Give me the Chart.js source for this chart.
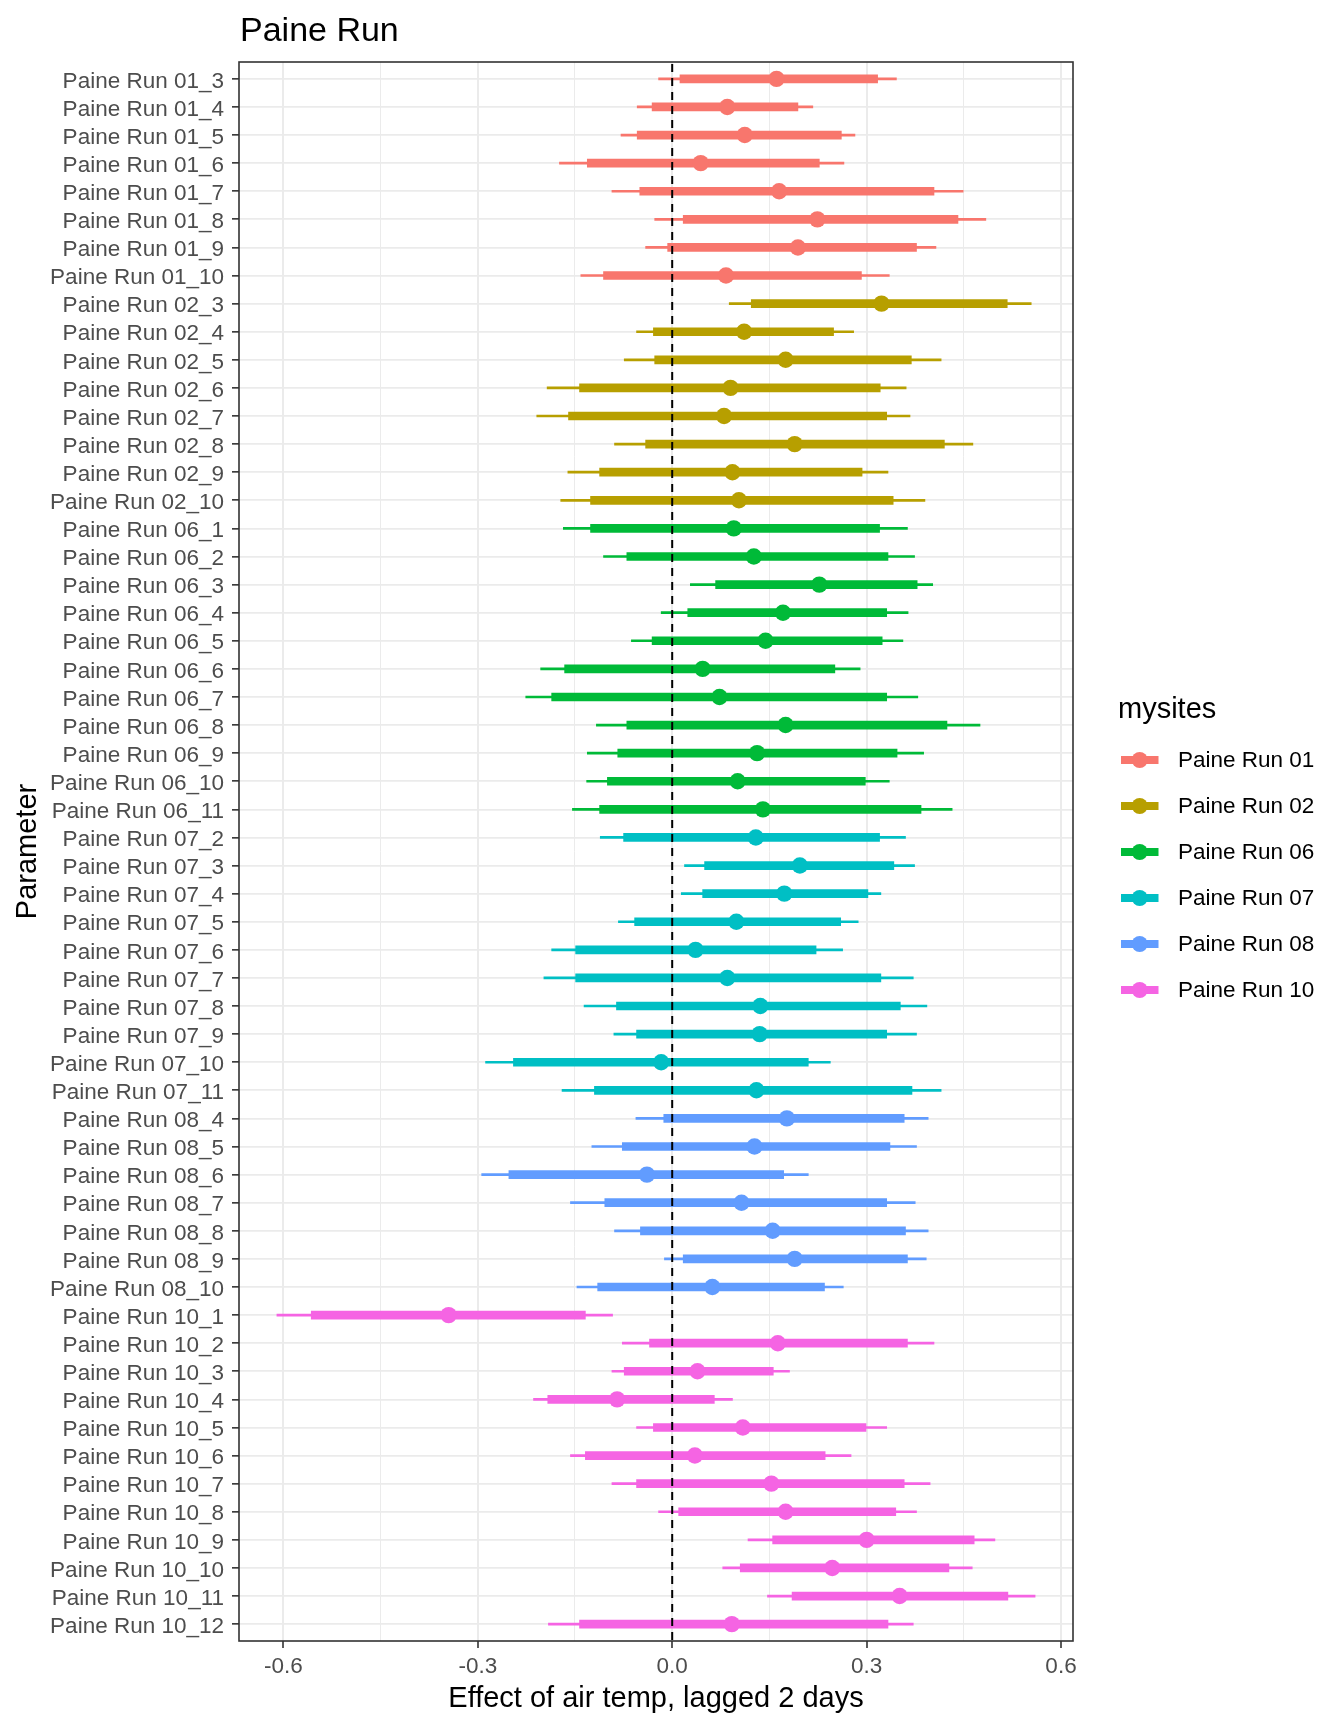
<!DOCTYPE html>
<html>
<head>
<meta charset="utf-8">
<script src="https://cdn.jsdelivr.net/npm/chart.js@4.4.1/dist/chart.umd.min.js"></script>
<style>
html,body{margin:0;padding:0;background:#ffffff;}
#wrap{width:1344px;height:1728px;}
</style>
</head>
<body>
<div id="wrap"><canvas id="c" width="1344" height="1728"></canvas></div>
<script>
// ---------------- data ----------------
const chartTitle = "Paine Run";
const xAxisTitle = "Effect of air temp, lagged 2 days";
const yAxisTitle = "Parameter";
const legendTitle = "mysites";

const sites = ["Paine Run 01","Paine Run 02","Paine Run 06","Paine Run 07","Paine Run 08","Paine Run 10"];

const categories = [
  "Paine Run 01_3","Paine Run 01_4","Paine Run 01_5","Paine Run 01_6","Paine Run 01_7","Paine Run 01_8","Paine Run 01_9","Paine Run 01_10",
  "Paine Run 02_3","Paine Run 02_4","Paine Run 02_5","Paine Run 02_6","Paine Run 02_7","Paine Run 02_8","Paine Run 02_9","Paine Run 02_10",
  "Paine Run 06_1","Paine Run 06_2","Paine Run 06_3","Paine Run 06_4","Paine Run 06_5","Paine Run 06_6","Paine Run 06_7","Paine Run 06_8","Paine Run 06_9","Paine Run 06_10","Paine Run 06_11",
  "Paine Run 07_2","Paine Run 07_3","Paine Run 07_4","Paine Run 07_5","Paine Run 07_6","Paine Run 07_7","Paine Run 07_8","Paine Run 07_9","Paine Run 07_10","Paine Run 07_11",
  "Paine Run 08_4","Paine Run 08_5","Paine Run 08_6","Paine Run 08_7","Paine Run 08_8","Paine Run 08_9","Paine Run 08_10",
  "Paine Run 10_1","Paine Run 10_2","Paine Run 10_3","Paine Run 10_4","Paine Run 10_5","Paine Run 10_6","Paine Run 10_7","Paine Run 10_8","Paine Run 10_9","Paine Run 10_10","Paine Run 10_11","Paine Run 10_12"
];

const siteOf = [
  "Paine Run 01","Paine Run 01","Paine Run 01","Paine Run 01","Paine Run 01","Paine Run 01","Paine Run 01","Paine Run 01",
  "Paine Run 02","Paine Run 02","Paine Run 02","Paine Run 02","Paine Run 02","Paine Run 02","Paine Run 02","Paine Run 02",
  "Paine Run 06","Paine Run 06","Paine Run 06","Paine Run 06","Paine Run 06","Paine Run 06","Paine Run 06","Paine Run 06","Paine Run 06","Paine Run 06","Paine Run 06",
  "Paine Run 07","Paine Run 07","Paine Run 07","Paine Run 07","Paine Run 07","Paine Run 07","Paine Run 07","Paine Run 07","Paine Run 07","Paine Run 07",
  "Paine Run 08","Paine Run 08","Paine Run 08","Paine Run 08","Paine Run 08","Paine Run 08","Paine Run 08",
  "Paine Run 10","Paine Run 10","Paine Run 10","Paine Run 10","Paine Run 10","Paine Run 10","Paine Run 10","Paine Run 10","Paine Run 10","Paine Run 10","Paine Run 10","Paine Run 10"
];

const estimate = [
  0.161, 0.085, 0.112, 0.044, 0.165, 0.224, 0.194, 0.083,
  0.323, 0.111, 0.175, 0.090, 0.080, 0.189, 0.093, 0.103,
  0.095, 0.126, 0.227, 0.171, 0.144, 0.047, 0.073, 0.175, 0.131, 0.101, 0.140,
  0.129, 0.197, 0.173, 0.099, 0.036, 0.085, 0.136, 0.135, -0.017, 0.130,
  0.177, 0.127, -0.039, 0.107, 0.155, 0.189, 0.062,
  -0.345, 0.163, 0.039, -0.085, 0.109, 0.035, 0.153, 0.175, 0.300, 0.247, 0.351, 0.092
];

const lo80 = [
  0.012, -0.031, -0.054, -0.131, -0.050, 0.017, -0.007, -0.106,
  0.122, -0.029, -0.027, -0.143, -0.160, -0.041, -0.112, -0.126,
  -0.126, -0.070, 0.067, 0.024, -0.031, -0.166, -0.186, -0.070, -0.084, -0.100, -0.112,
  -0.075, 0.050, 0.047, -0.058, -0.149, -0.149, -0.086, -0.055, -0.245, -0.120,
  -0.013, -0.077, -0.252, -0.104, -0.049, 0.017, -0.115,
  -0.557, -0.035, -0.074, -0.192, -0.029, -0.134, -0.055, 0.010, 0.155, 0.105, 0.185, -0.143
];

const hi80 = [
  0.317, 0.194, 0.261, 0.227, 0.404, 0.441, 0.377, 0.292,
  0.517, 0.249, 0.369, 0.321, 0.331, 0.420, 0.293, 0.341,
  0.320, 0.333, 0.378, 0.331, 0.324, 0.251, 0.331, 0.424, 0.347, 0.298, 0.384,
  0.320, 0.342, 0.302, 0.260, 0.222, 0.322, 0.352, 0.331, 0.210, 0.370,
  0.358, 0.336, 0.172, 0.331, 0.360, 0.363, 0.235,
  -0.134, 0.363, 0.156, 0.065, 0.299, 0.236, 0.358, 0.345, 0.466, 0.427, 0.518, 0.333
];

const lo95 = [
  -0.021, -0.054, -0.079, -0.174, -0.093, -0.027, -0.041, -0.141,
  0.088, -0.055, -0.074, -0.193, -0.209, -0.089, -0.161, -0.172,
  -0.168, -0.106, 0.028, -0.017, -0.063, -0.203, -0.226, -0.117, -0.131, -0.132, -0.154,
  -0.111, 0.019, 0.014, -0.083, -0.186, -0.198, -0.136, -0.090, -0.288, -0.170,
  -0.056, -0.124, -0.294, -0.157, -0.089, -0.012, -0.147,
  -0.610, -0.077, -0.093, -0.214, -0.055, -0.157, -0.093, -0.021, 0.117, 0.078, 0.147, -0.191
];

const hi95 = [
  0.346, 0.217, 0.282, 0.265, 0.449, 0.484, 0.407, 0.335,
  0.554, 0.280, 0.415, 0.361, 0.367, 0.464, 0.333, 0.390,
  0.363, 0.374, 0.402, 0.364, 0.356, 0.290, 0.379, 0.475, 0.388, 0.335, 0.432,
  0.360, 0.374, 0.322, 0.287, 0.263, 0.372, 0.393, 0.377, 0.244, 0.415,
  0.395, 0.377, 0.210, 0.375, 0.395, 0.392, 0.264,
  -0.092, 0.404, 0.181, 0.093, 0.331, 0.276, 0.398, 0.377, 0.498, 0.463, 0.560, 0.372
];

const xTickValues = [-0.6, -0.3, 0.0, 0.3, 0.6];
const xTickLabels = ["-0.6", "-0.3", "0.0", "0.3", "0.6"];
const xMinorValues = [-0.45, -0.15, 0.15, 0.45];
const referenceLine = 0;

// ---------------- styling ----------------
const palette = ["#F8766D", "#B79F00", "#00BA38", "#00BFC4", "#619CFF", "#F564E3"];
const FONT = "'Liberation Sans', Arial, Helvetica, sans-serif";
Chart.defaults.font.family = FONT;

const rowColors = siteOf.map(s => palette[sites.indexOf(s)]);
const rowPos = categories.map((_, i) => i + 1);
const allXGrid = xTickValues.concat(xMinorValues).sort((a, b) => a - b);
const isMajor = v => xTickValues.some(t => Math.abs(t - v) < 1e-9);

const decor = {
  id: 'decor',
  afterDatasetsDraw(chart) {
    const {ctx, chartArea: a, scales: {x}} = chart;
    const px = x.getPixelForValue(referenceLine);
    ctx.save();
    ctx.strokeStyle = '#000000';
    ctx.lineWidth = 2;
    ctx.setLineDash([8, 6]);
    ctx.beginPath();
    ctx.moveTo(px, a.top + 2);
    ctx.lineTo(px, a.bottom);
    ctx.stroke();
    ctx.restore();
  },
  afterDraw(chart) {
    const {ctx, chartArea: a} = chart;
    ctx.save();
    // panel border
    ctx.strokeStyle = '#333333';
    ctx.lineWidth = 1.6;
    ctx.strokeRect(a.left, a.top, a.right - a.left, a.bottom - a.top);
    // title
    ctx.fillStyle = '#000000';
    ctx.textBaseline = 'middle';
    ctx.textAlign = 'left';
    ctx.font = "34px " + FONT;
    ctx.fillText(chartTitle, a.left + 1, 32);
    // legend
    const lx = 1118;
    ctx.font = "29px " + FONT;
    ctx.fillText(legendTitle, lx, 710);
    ctx.font = "22.5px " + FONT;
    sites.forEach((s, i) => {
      const cy = 760 + i * 46;
      const col = palette[i];
      ctx.fillStyle = col;
      ctx.fillRect(1121, cy - 4, 37.5, 8);
      ctx.beginPath();
      ctx.arc(1139.7, cy, 8, 0, Math.PI * 2);
      ctx.fill();
      ctx.fillStyle = '#000000';
      ctx.fillText(s, 1178, cy + 1);
    });
    ctx.restore();
  }
};

new Chart(document.getElementById('c'), {
  type: 'bar',
  data: {
    datasets: [
      {
        type: 'scatter',
        label: 'estimate',
        data: estimate.map((v, i) => ({x: v, y: rowPos[i]})),
        pointRadius: 8.2,
        pointHoverRadius: 8.2,
        pointBackgroundColor: rowColors,
        pointBorderColor: rowColors,
        pointBorderWidth: 0,
        order: 0
      },
      {
        type: 'bar',
        label: 'inner interval',
        data: lo80.map((v, i) => ({x: [v, hi80[i]], y: rowPos[i]})),
        backgroundColor: rowColors,
        borderWidth: 0,
        barThickness: 8,
        grouped: false,
        order: 1
      },
      {
        type: 'bar',
        label: 'outer interval',
        data: lo95.map((v, i) => ({x: [v, hi95[i]], y: rowPos[i]})),
        backgroundColor: rowColors,
        borderWidth: 0,
        barThickness: 2,
        grouped: false,
        order: 2
      }
    ]
  },
  options: {
    indexAxis: 'y',
    responsive: false,
    animation: false,
    devicePixelRatio: 1,
    layout: {padding: {top: 62, right: 271, bottom: 0, left: 0}},
    plugins: {legend: {display: false}, tooltip: {enabled: false}, title: {display: false}},
    scales: {
      x: {
        type: 'linear',
        position: 'bottom',
        min: -0.6685,
        max: 0.6185,
        offset: false,
        afterBuildTicks: s => { s.ticks = allXGrid.map(v => ({value: v})); },
        afterFit: s => { s.height = 87; },
        ticks: {
          autoSkip: false, maxRotation: 0, padding: 5, color: '#4D4D4D', font: {size: 22.5},
          callback: v => { const k = xTickValues.findIndex(t => Math.abs(t - v) < 1e-9); return k >= 0 ? xTickLabels[k] : ''; }
        },
        grid: {
          offset: false,
          color: '#EBEBEB',
          lineWidth: c => (c.tick && isMajor(c.tick.value)) ? 2 : 1,
          tickLength: 7,
          tickWidth: 1.6,
          tickColor: c => (c.tick && isMajor(c.tick.value)) ? '#333333' : 'rgba(0,0,0,0)'
        },
        border: {display: false},
        title: {display: true, text: xAxisTitle, color: '#000000', font: {size: 29}, padding: {top: 0, bottom: 12}}
      },
      y: {
        type: 'linear',
        position: 'left',
        reverse: true,
        min: 0.4,
        max: 56.6,
        offset: false,
        afterBuildTicks: s => { s.ticks = rowPos.map(v => ({value: v})); },
        afterFit: s => { s.width = 239; },
        ticks: {
          autoSkip: false, padding: 8, labelOffset: 2.5, color: '#4D4D4D', font: {size: 22.5},
          callback: v => categories[Math.round(v) - 1] || ''
        },
        grid: {offset: false, color: '#EBEBEB', lineWidth: 1.7, tickLength: 7, tickWidth: 1.6, tickColor: '#333333'},
        border: {display: false},
        title: {display: true, text: yAxisTitle, color: '#000000', font: {size: 29}, padding: {top: 10.4, bottom: 0}}
      }
    }
  },
  plugins: [decor]
});
</script>
</body>
</html>
